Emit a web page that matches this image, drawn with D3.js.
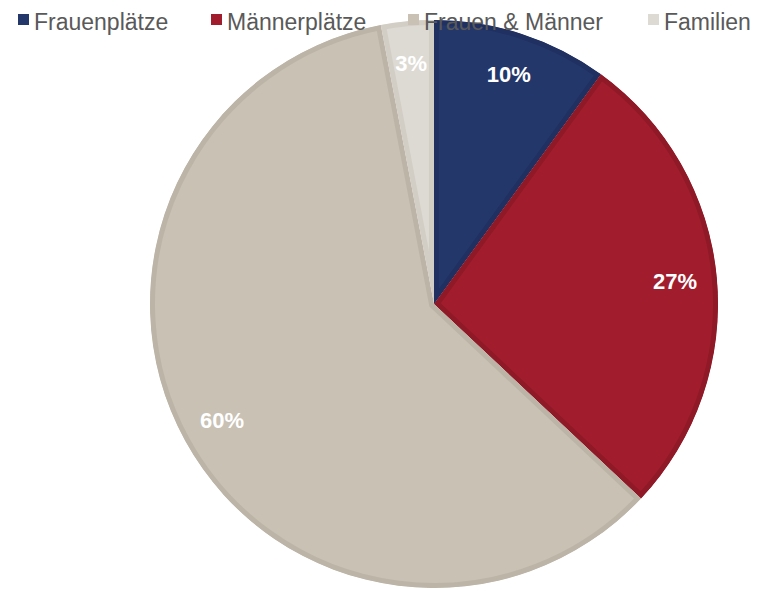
<!DOCTYPE html>
<html>
<head>
<meta charset="utf-8">
<style>
  body { margin: 0; background: #fff; }
  svg { display: block; }
</style>
</head>
<body>
<script src="https://cdnjs.cloudflare.com/ajax/libs/d3/7.8.5/d3.min.js"></script>
<script>
// Data
const categories = ["Frauenplätze", "Männerplätze", "Frauen & Männer", "Familien"];
const values = [10, 27, 60, 3];
const labels = ["10%", "27%", "60%", "3%"];
const colors = ["#24376b", "#a11d2d", "#c8c1b4", "#dddad3"];
const edgeColors = ["#1f3061", "#8f1927", "#bcb4a7", "#d2cec6"];

const width = 762, height = 591;
const cx = 434, cy = 304, radius = 284;

const svg = d3.select("body").append("svg")
  .attr("width", width)
  .attr("height", height);

const pie = d3.pie().sort(null).value(d => d)(values);
const arc = d3.arc().innerRadius(0).outerRadius(radius);
const labelArc = d3.arc().innerRadius(242).outerRadius(242);

const defs = svg.append("defs");
const g = svg.append("g").attr("transform", `translate(${cx},${cy})`);

pie.forEach((p, i) => {
  defs.append("clipPath").attr("id", "clip" + i)
    .append("path").attr("d", arc(p));
});

// Slices with a darker inner edge (bevel look)
g.selectAll("path.slice")
  .data(pie)
  .enter()
  .append("path")
  .attr("class", "slice")
  .attr("d", arc)
  .attr("fill", (d, i) => colors[i])
  .attr("stroke", (d, i) => edgeColors[i])
  .attr("stroke-width", 10)
  .attr("clip-path", (d, i) => `url(#clip${i})`);

// Labels
g.selectAll("text.lbl")
  .data(pie)
  .enter()
  .append("text")
  .attr("class", "lbl")
  .attr("transform", d => `translate(${labelArc.centroid(d)})`)
  .attr("text-anchor", "middle")
  .attr("dy", "0.35em")
  .style("font-family", "Liberation Sans, Arial, sans-serif")
  .style("font-weight", "bold")
  .style("font-size", "22px")
  .style("fill", "#fff")
  .text((d, i) => labels[i]);

// Legend
const legendX = [18, 211, 408, 648];
const legend = svg.selectAll("g.legend")
  .data(categories)
  .enter()
  .append("g")
  .attr("class", "legend")
  .attr("transform", (d, i) => `translate(${legendX[i]},0)`);

legend.append("rect")
  .attr("x", 0)
  .attr("y", 14)
  .attr("width", 11)
  .attr("height", 11)
  .attr("fill", (d, i) => colors[i]);

legend.append("text")
  .attr("x", 16)
  .attr("y", 30)
  .style("font-family", "Liberation Sans, Arial, sans-serif")
  .style("font-size", "23px")
  .style("fill", "#595959")
  .text(d => d);
</script>
</body>
</html>
